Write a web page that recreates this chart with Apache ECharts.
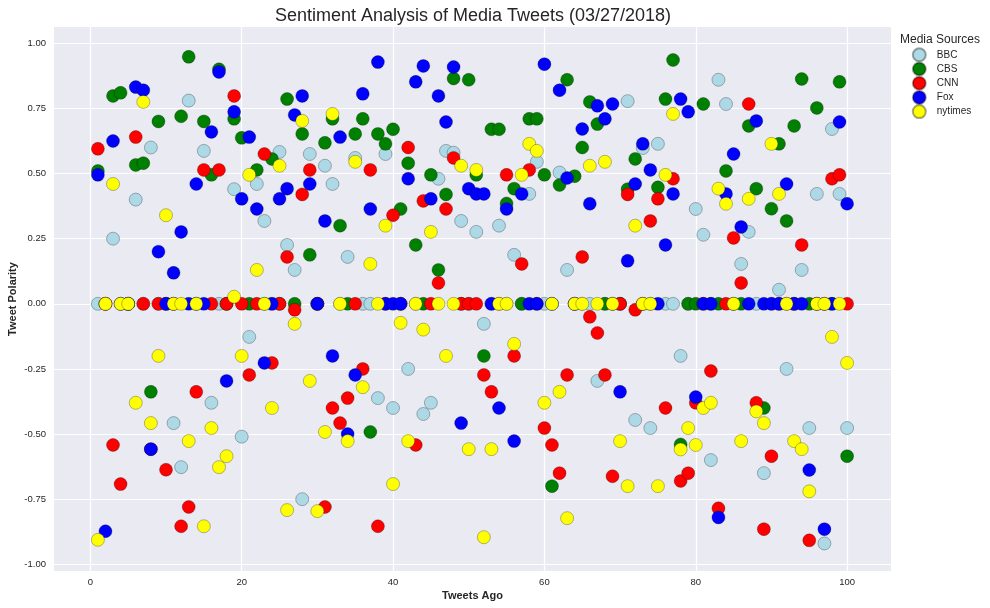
<!DOCTYPE html>
<html>
<head>
<meta charset="utf-8">
<style>html,body{margin:0;padding:0;background:#fff}#c{width:990px;height:608px}</style>
<script src="https://cdn.jsdelivr.net/npm/echarts@6/dist/echarts.min.js"></script>
</head>
<body>
<div id="c"></div>
<script>
const xTicks = [0,20,40,60,80,100];
const yTicks = [-1,-0.75,-0.5,-0.25,0,0.25,0.5,0.75,1];
const sources = ['BBC','CBS','CNN','Fox','nytimes'];
const BBC = [0,0,.25,0,0,.40,0,.60,0,0,-.458,-.627,.78,0,.587,-.38,0,0,.44,-.51,-.127,.46,.318,0,.583,.226,.13,-.75,.575,0,.53,.46,0,.18,.56,0,0,-.362,.575,-.40,0,-.25,0,-.423,-.38,.48,.587,.58,.318,0,.276,-.077,0,.30,0,.188,0,.422,.545,0,0,.504,.13,0,0,0,-.296,0,0,0,.778,-.446,.598,-.477,.614,0,0,-.20,0,.364,.265,-.60,.86,.767,0,.153,.276,0,-.65,0,.054,-.25,0,.13,-.477,.422,-.92,.671,.422,-.477];
const CBS = [.51,0,.798,.81,0,.533,.54,-.338,.70,0,0,.72,.948,0,.70,.495,.90,0,.71,.637,0,.514,0,.556,0,.786,0,.652,.188,0,.618,.71,.30,0,.652,.71,-.492,.652,.614,.67,.364,.54,.226,0,.495,.13,.42,.865,0,.86,.495,-.20,.67,.67,.385,.442,0,.71,.71,.495,-.70,.456,.86,.49,.60,.775,.69,0,0,0,.44,.556,0,0,.447,.786,.936,-.54,0,0,.767,0,0,.51,0,0,.683,.442,-.40,.365,.614,.318,.683,.863,0,.752,0,0,.852,-.585];
const CNN = [.595,0,-.542,-.692,0,.64,0,-.558,0,-.637,0,-.854,-.78,-.338,.514,0,.514,0,.798,0,-.273,0,.575,-.227,0,.18,-.023,.42,.514,0,-.78,-.40,-.458,-.362,0,-.25,.514,-.854,0,.34,0,.60,-.542,.395,0,.08,.364,.56,0,0,0,-.273,-.338,0,.495,-.20,.153,.514,0,-.477,-.542,-.65,-.273,0,.18,-.05,-.112,-.273,-.662,0,.42,-.023,0,.318,.403,-.40,.48,-.68,-.65,-.38,0,-.258,-.785,0,.253,.08,.767,-.38,-.865,-.585,0,0,0,.226,-.908,0,0,.48,.495,0];
const Fox = [.495,-.873,.625,0,0,.832,.82,-.558,.20,0,.119,.276,0,.46,0,.66,.89,-.296,.737,.403,.64,.364,-.227,0,.403,.442,.725,.798,.46,0,.318,-.20,.64,-.50,-.273,.806,.364,.928,0,0,0,.48,.852,.913,.403,.798,.698,.909,-.458,.442,.422,.422,0,-.40,.364,-.527,.422,0,0,.92,0,.82,.483,0,.671,.384,.76,.71,.767,-.338,.165,.46,.614,.514,0,.226,.422,.786,.737,-.358,0,0,-.82,.422,.575,.295,0,.702,0,0,0,.46,0,0,-.638,0,-.865,0,.698,.384];
const nytimes = [-.906,0,.46,0,0,-.38,.775,-.458,-.20,.34,0,0,-.527,0,-.854,-.477,-.627,-.585,.027,-.20,.495,.13,0,-.40,.53,-.792,-.077,.702,-.296,-.796,-.492,.729,0,-.527,.545,-.32,.153,0,.30,-.692,-.073,-.527,0,-.099,.276,0,-.20,0,.53,-.558,.514,-.896,-.558,0,0,-.154,.495,.614,.587,-.38,0,-.338,-.823,0,0,.53,0,.545,0,-.527,-.70,.30,0,0,-.70,.495,.729,-.559,-.477,-.542,-.40,-.38,.442,.384,0,-.527,.403,-.413,-.458,.614,.422,0,-.527,-.558,-.72,0,0,-.127,0,-.227];
const seriesValues = [BBC,CBS,CNN,Fox,nytimes];
const colors = ['#add8e6','#008000','#ff0000','#0000ff','#ffff00'];
const FONT = '"Liberation Sans", Arial, sans-serif';
const chart = echarts.init(document.getElementById('c'), null, {renderer:'canvas'});
const axisCommon = {
  axisLine:{show:false},
  splitLine:{show:true,lineStyle:{color:'#ffffff',width:1.2}},
  nameLocation:'middle',
  nameMoveOverlap:false,
  nameTextStyle:{fontFamily:FONT,fontSize:11,fontWeight:'bold',color:'#262626'}
};
chart.setOption({
  animation:false,
  backgroundColor:'#ffffff',
  title:{text:'Sentiment Analysis of Media Tweets (03/27/2018)',left:468,textAlign:'center',top:2,
    textStyle:{fontFamily:FONT,fontSize:18,fontWeight:'normal',color:'#262626'}},
  grid:{left:54,top:27,width:837,height:544,show:true,backgroundColor:'#eaeaf2',borderWidth:0,containLabel:false,outerBoundsMode:'none'},
  xAxis:Object.assign({},axisCommon,{type:'value',min:-4.8,max:105.8,name:'Tweets Ago',nameGap:19,
    axisLabel:{customValues:xTicks,fontFamily:FONT,fontSize:9.5,color:'#262626',margin:6},
    axisTick:{show:false,customValues:xTicks}}),
  yAxis:Object.assign({},axisCommon,{type:'value',min:-1.0257,max:1.0626,name:'Tweet Polarity',nameGap:36,
    axisLabel:{customValues:yTicks,fontFamily:FONT,fontSize:9.5,color:'#262626',margin:8,formatter:v=>v.toFixed(2)},
    axisTick:{show:false,customValues:yTicks}}),
  legend:{show:true,orient:'vertical',left:911.8,top:47.3,padding:0,itemWidth:13,itemHeight:13,itemGap:-0.8,selectedMode:false,icon:'circle',
    data:sources,
    textStyle:{fontFamily:FONT,fontSize:10,lineHeight:11,color:'#262626',padding:[0,0,0,6]}},
  graphic:[{type:'text',left:900,top:34,style:{text:'Media Sources',fontFamily:FONT,fontSize:12,fill:'#262626'}}],
  series:sources.map((name,k)=>({
    name,type:'scatter',symbol:'circle',symbolSize:13,
    data:seriesValues[k].map((v,i)=>[i+1,v]),
    itemStyle:{color:colors[k],borderColor:'rgba(0,0,0,0.35)',borderWidth:0.8,opacity:1},
    emphasis:{disabled:true}
  }))
});
</script>
</body>
</html>
